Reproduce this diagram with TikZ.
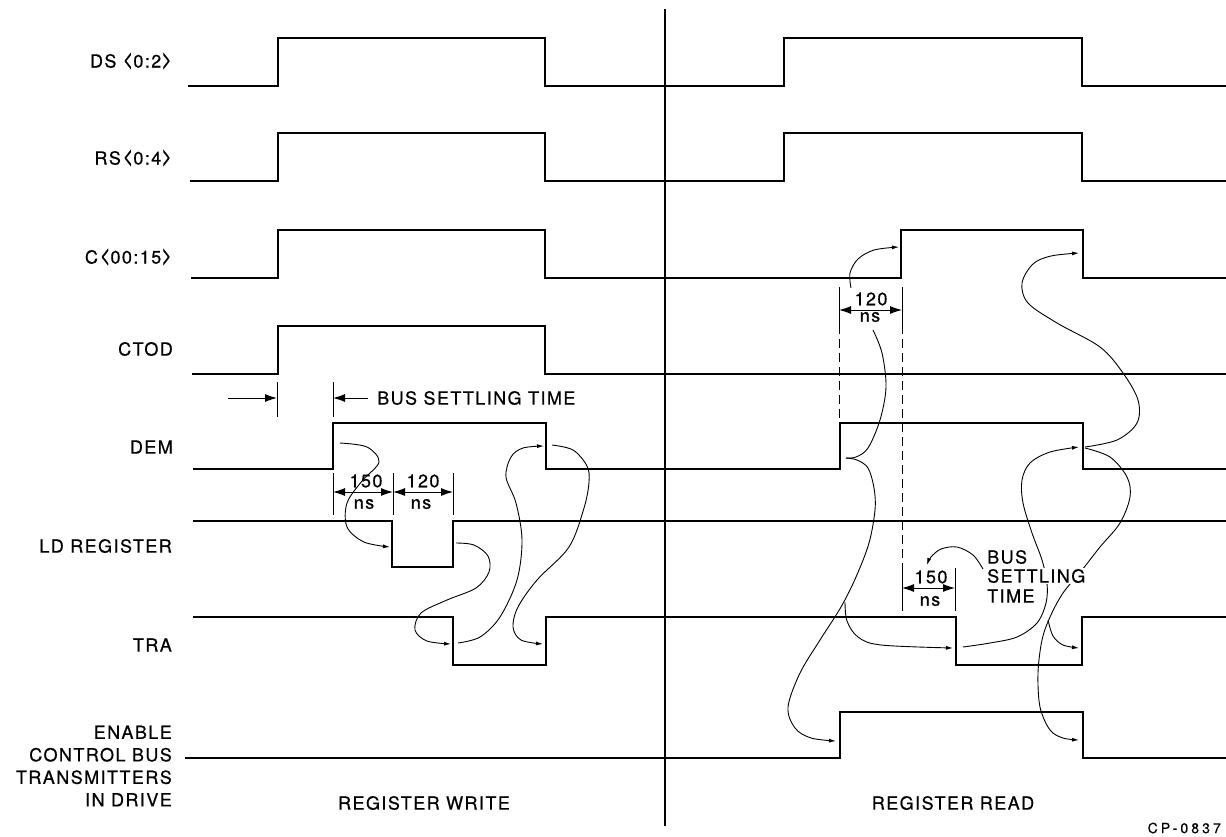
\documentclass[tikz,border=0pt]{standalone}
\usepackage{fontspec}
\setmainfont{TeX Gyre Heros}[LetterSpace=8,FakeBold=0.6]
\newfontfamily\cpfamily{TeX Gyre Heros}[LetterSpace=22,FakeBold=0.5]
\usetikzlibrary{arrows.meta}
\newcommand\lblfont{\fontsize{18}{22.5}\selectfont}
\newcommand\cpfont{\cpfamily\fontsize{14}{16}\selectfont}
\newcommand\lchev{\scalebox{1}[1.45]{<}}
\newcommand\rchev{\scalebox{1}[1.45]{>}}
\begin{document}
\begin{tikzpicture}[x=1pt,y=-1pt,
  sig/.style={line width=2.5pt, line join=miter},
  curv/.style={line width=0.9pt, -{Latex[length=7pt,width=4pt]}},
  plain/.style={line width=0.9pt},
  dimarr/.style={line width=1pt, {Latex[length=12pt,width=8pt]}-{Latex[length=12pt,width=8pt]}},
  onearr/.style={line width=1pt, -{Latex[length=12pt,width=8pt]}},
  tick/.style={line width=1pt},
  dtick/.style={line width=1pt, dash pattern=on 9pt off 5pt},
  lbl/.style={anchor=east, font=\lblfont, inner sep=0pt},
  txt/.style={font=\lblfont, inner sep=0pt},
  wtxt/.style={font=\lblfont, inner sep=1pt, fill=white, anchor=west}]
\useasboundingbox (0,0) rectangle (1226,836);

% signal labels
\node[lbl] (lds)  at (172,61)  {DS \lchev 0:2\rchev};
\node[lbl] (lrs)  at (172,158) {RS\hspace{2pt}\lchev 0:4\rchev};
\node[lbl] (lc)   at (172,257) {C\hspace{2pt}\lchev 00:15\rchev};
\node[lbl] (lctod) at (173,349) {CTOD};
\node[lbl] (ldem) at (173,447) {DEM};
\node[lbl] (lld)  at (172,546) {LD REGISTER};
\node[lbl] (ltra) at (172,645) {TRA};
\node[lbl, align=right] (len) at (172,766) {ENABLE\\CONTROL BUS\\TRANSMITTERS\\IN DRIVE};

% signals
\draw[sig] (188,86) -- (278,86) -- (278,38) -- (545,38) -- (545,86) -- (784,86) -- (784,38) -- (1082,38) -- (1082,86) -- (1226,86);
\draw[sig] (190,181) -- (278,181) -- (278,133) -- (545,133) -- (545,181) -- (784,181) -- (784,133) -- (1082,133) -- (1082,181) -- (1226,181);
\draw[sig] (191,278) -- (278,278) -- (278,230) -- (545,230) -- (545,278) -- (901,278) -- (901,230) -- (1083,230) -- (1083,278) -- (1226,278);
\draw[sig] (192,374) -- (278,374) -- (278,326) -- (545,326) -- (545,374) -- (1226,374);
\draw[sig] (193,469) -- (333,469) -- (333,423) -- (546,423) -- (546,469) -- (840,469) -- (840,423) -- (1083,423) -- (1083,469) -- (1226,469);
\draw[sig] (193,521) -- (392,521) -- (392,567) -- (453,567) -- (453,521) -- (1226,521);
\draw[sig] (193,617) -- (453,617) -- (453,665) -- (546,665) -- (546,617) -- (956,617) -- (956,665) -- (1082,665) -- (1082,617) -- (1226,617);
\draw[sig] (185,758) -- (840,758) -- (840,712) -- (1083,712) -- (1083,758) -- (1226,758);

% divider
\draw[line width=1.2pt] (665,9) -- (665,826);

% ---- register write annotations ----
\draw[tick] (277,382) -- (277,417);
\draw[tick] (333,382) -- (333,417);
\draw[onearr] (228,398) -- (277,398);
\draw[onearr] (368,398) -- (333,398);
\node[txt, anchor=west] (bstw) at (377,398) {BUS SETTLING TIME};

\draw[tick] (333,473) -- (333,515);
\draw[tick] (393,473) -- (393,515);
\draw[tick] (453,473) -- (453,515);
\draw[dimarr] (333,492) -- (393,492);
\draw[dimarr] (393,492) -- (453,492);
\node[txt] (w150) at (366,481) {150};
\node[txt] (wns1) at (364,504) {ns};
\node[txt] (w120) at (423,481) {120};
\node[txt] (wns2) at (421,504) {ns};

% write curves
\draw[curv] plot[smooth, tension=0.55] coordinates {(340,443) (367,447) (379,462) (362,481) (347,503) (347,527) (364,542) (390,547)};
\draw[curv] plot[smooth, tension=0.55] coordinates {(456,543) (474,545) (488,556) (489,572) (476,588) (447,600) (421,613) (415,630) (427,641) (451,644)};
\draw[curv] plot[smooth, tension=0.55] coordinates {(458,643) (480,637) (500,617) (517,580) (522,540) (516,503) (506,477) (511,457) (523,448) (544,446)};
\draw[curv] plot[smooth, tension=0.55] coordinates {(552,445) (573,450) (587,466) (589,482) (584,508) (569,547) (537,580) (518,607) (513,627) (521,640) (543,644)};

% ---- register read annotations ----
\draw[tick] (839,287) -- (839,325);
\draw[dtick] (839,325) -- (839,423);
\draw[tick] (902,287) -- (902,325);
\draw[dtick] (902,325) -- (902,568);
\draw[tick] (902,568) -- (902,611);
\draw[tick] (955,568) -- (955,611);
\draw[dimarr] (839,310) -- (902,310);
\draw[dimarr] (902,588) -- (955,588);
\node[txt] (r120) at (871,299) {120};
\node[txt] (rns1) at (870,317) {ns};
\node[txt] (r150) at (931,577) {150};
\node[txt] (rns2) at (930,601) {ns};

% read curves
\draw[curv] plot[smooth, tension=0.55] coordinates {(851,288) (850,273) (858,259) (874,250) (899,247)};
\draw[plain] plot[smooth, tension=0.55] coordinates {(873,330) (882,353) (886,387) (880,420) (868,448) (856,457) (846,458)};
\draw[curv] plot[smooth, tension=0.55] coordinates {(846,458) (857,460) (868,468) (874,488) (875,510) (869,543) (856,577) (841,607) (820,640) (800,673) (788,707) (795,728) (811,738) (836,741)};
\draw[curv] plot[smooth, tension=0.55] coordinates {(845,602) (847,621) (858,637) (881,645) (953,648)};
\draw[curv] plot[smooth, tension=0.55] coordinates {(1085,447) (1117,440) (1137,423) (1138,400) (1123,373) (1100,347) (1057,323) (1028,303) (1022,283) (1033,264) (1051,256) (1079,253)};
\draw[curv] plot[smooth, tension=0.55] coordinates {(1085,448) (1110,457) (1127,477) (1130,497) (1120,523) (1100,547) (1082,570) (1063,593) (1050,617) (1042,640) (1038,673) (1040,707) (1050,730) (1063,738) (1079,740)};
\draw[curv] plot[smooth, tension=0.55] coordinates {(1048,620) (1053,636) (1063,645) (1079,648)};
\draw[curv] plot[smooth, tension=0.55] coordinates {(963,647) (990,643) (1017,637) (1037,623) (1046,603) (1047,583) (1042,560) (1032,533) (1023,503) (1022,480) (1030,463) (1050,452) (1079,447)};
\draw[curv] plot[smooth, tension=0.55] coordinates {(983,569) (973,555) (957,547) (941,549) (931,557) (927,565)};

\node[wtxt] (rbus) at (986,557) {BUS};
\node[wtxt] (rset) at (986,576) {SETTLING};
\node[wtxt] (rtime) at (986,596) {TIME};

% bottom labels
\node[txt] (rw) at (424,803) {REGISTER WRITE};
\node[txt] (rr) at (953,803) {REGISTER READ};
\node[anchor=east, font=\cpfont, inner sep=0pt] (cp) at (1221,828) {CP-0837};
\end{tikzpicture}
\end{document}
